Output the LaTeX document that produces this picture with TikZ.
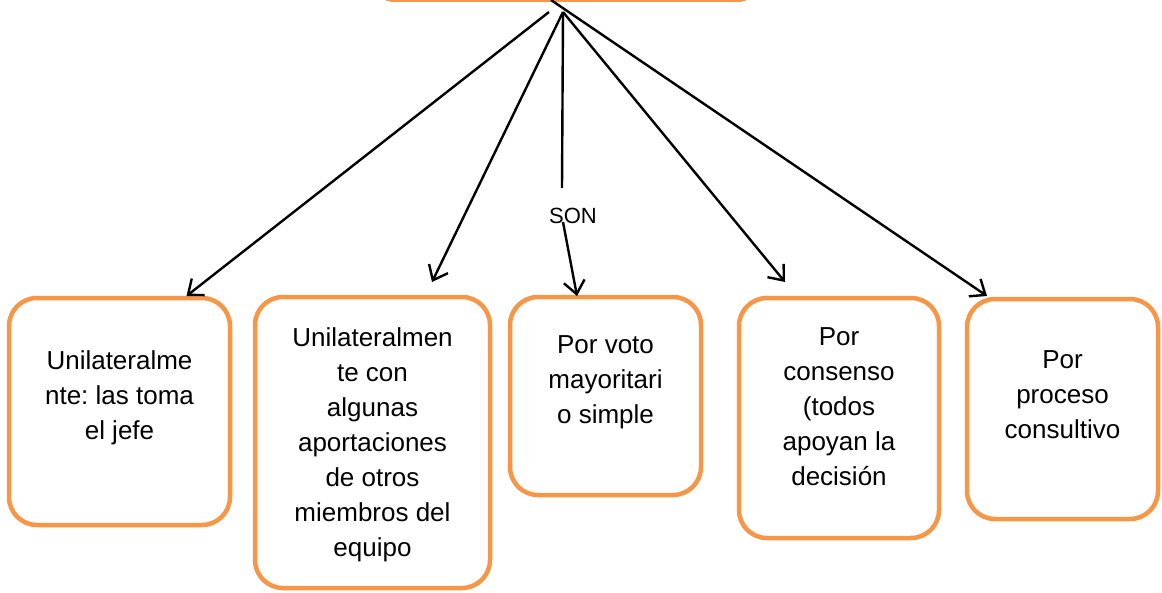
\documentclass[tikz,border=0pt]{standalone}
\usepackage{fontspec}
\setmainfont{Liberation Sans}
\frenchspacing
\usetikzlibrary{arrows.meta,calc}
\definecolor{naranja}{HTML}{F79646}
\tikzset{
  caja/.style={draw=naranja,line width=4.5pt,rounded corners=28pt,inner sep=0pt,outer sep=0pt},
  texto/.style={align=center,font=\fontsize{26}{35}\selectfont},
  linea/.style={line width=2.4pt},
  flecha/.style={line width=2.4pt,-{Straight Barb[length=13pt,width=21pt]}}
}

\begin{document}
\begin{tikzpicture}[x=1pt,y=-1pt]
          \useasboundingbox (0,0) rectangle (1162,592);
          \clip (0,0) rectangle (1162,592);
          \node[caja,rounded corners=8pt,minimum width=366pt,minimum height=80pt] (tema) at (566,-40.5) {};
          \node[caja,minimum width=221pt,minimum height=227pt,
                label={[texto,yshift=14pt]center:Unilateralme\\nte: las toma\\el jefe}] (b1) at (119.5,411.5) {};
          \node[caja,minimum width=235pt,minimum height=291pt,
                label={[texto,yshift=-2pt]center:Unilateralmen\\te con\\algunas\\aportaciones\\de otros\\miembros del\\equipo}] (b2) at (372.5,442.5) {};
          \node[caja,minimum width=191pt,minimum height=198pt,
                label={[texto,yshift=14pt]center:Por voto\\mayoritari\\o simple}] (b3) at (605.5,396) {};
          \node[caja,minimum width=200pt,minimum height=240pt,
                label={[texto,yshift=11pt]center:Por\\consenso\\(todos\\apoyan la\\decisión}] (b4) at (839,418) {};
          \node[caja,minimum width=191pt,minimum height=220pt,
                label={[texto,yshift=14pt]center:Por\\proceso\\consultivo}] (b5) at (1062.5,409) {};
          \node[font=\fontsize{22}{26}\selectfont] (son) at (573,216) {SON};
          \coordinate (centro) at (563,12);
          \coordinate (centroA) at (549,12);
          \coordinate (centroB) at (551,0);
          \coordinate (finlinea) at (562,188);
          \draw[flecha] (centroA) -- ([xshift=67pt,yshift=2pt]b1.north);
          \draw[flecha] (centro) -- ([xshift=59.5pt,yshift=15pt]b2.north);
          \draw[linea] (centro) -- (finlinea);
          \draw[flecha] ([xshift=-10pt,yshift=-6pt]son.center) -- ([xshift=-28.5pt,yshift=1pt]b3.north);
          \draw[flecha] (centro) -- ([xshift=-54pt,yshift=16pt]b4.north);
          \draw[flecha] (centroB) -- ([xshift=-75.5pt,yshift=3pt]b5.north);
        \end{tikzpicture}
\end{document}
